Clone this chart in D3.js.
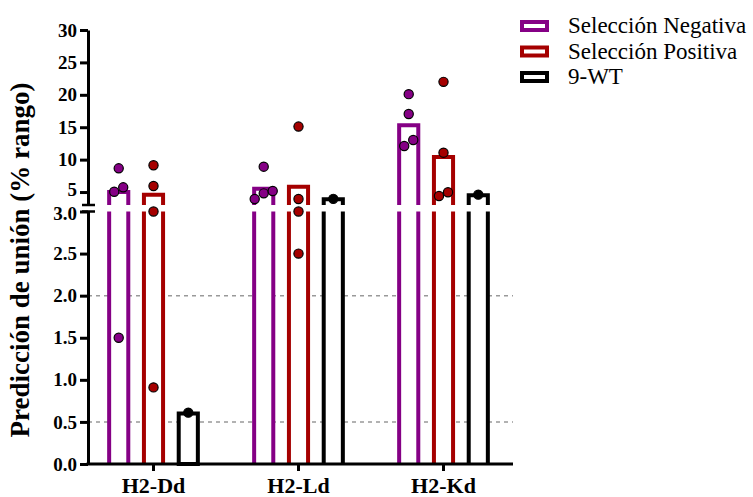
<!DOCTYPE html>
<html>
<head>
<meta charset="utf-8">
<script src="https://cdn.jsdelivr.net/npm/d3@7"></script>
<style>
  body { margin: 0; background: #fff; }
  svg text { font-family: "Liberation Serif", "DejaVu Serif", "Times New Roman", Times, serif; }
</style>
</head>
<body>
<svg id="chart" width="753" height="497"></svg>
<script>
// categories and series
const groups = ['H2-Dd', 'H2-Ld', 'H2-Kd'];
const series = ['Selección Negativa', 'Selección Positiva', '9-WT'];
const colors = ['#850085', '#a50000', '#000000'];

// bar heights (mean), one per group, per series
const negMeans = [5.0, 5.5, 15.3];
const posMeans = [4.6, 5.8, 10.4];
const wtMeans = [0.6, 3.9, 4.5];

// individual points, per group
const negPoints = [[8.66, 5.05, 5.73, 1.5], [8.91, 3.93, 5.16, 4.8], [20.1, 17.04, 12.1, 13.03]];
const posPoints = [[9.13, 5.93, 3.0, 0.91], [15.1, 3.93, 3.0, 2.5], [22.0, 11.07, 4.39, 4.96]];
const wtPoints = [[0.61], [3.95], [4.6]];

// axis ticks
const lowTicks = [0, 0.5, 1.0, 1.5, 2.0, 2.5, 3.0];
const highTicks = [5, 10, 15, 20, 25, 30];
const gridValues = [0.5, 2.0];

const means = [negMeans, posMeans, wtMeans];
const points = [negPoints, posPoints, wtPoints];

const FONT = '"Liberation Serif", "DejaVu Serif", "Times New Roman", Times, serif';

const svg = d3.select('#chart');
const axisX = 88, axisRight = 513;
const breakLow = 3, breakHigh = 3;

// two-segment y axis
const yLow = d3.scaleLinear().domain([0, breakLow]).range([464, 211.5]);
const yHigh = d3.scaleLinear().domain([breakHigh, 30]).range([205, 30]);
const y = v => v <= breakLow ? yLow(v) : yHigh(v);

const x = d3.scaleBand().domain(groups).range([81, 516]);
const xs = d3.scaleBand().domain(series).range([-60, 60]).padding(0.45);

// gridlines
svg.append('g').selectAll('line')
    .data(gridValues)
    .join('line')
    .attr('x1', axisX).attr('x2', axisRight)
    .attr('y1', d => yLow(d)).attr('y2', d => yLow(d))
    .attr('stroke', '#999').attr('stroke-width', 1.5)
    .attr('stroke-dasharray', '4,4');

// bars
const barData = [];
series.forEach((s, si) => {
    groups.forEach((g, gi) => {
        barData.push({ g, s, si, v: means[si][gi], pts: points[si][gi] });
    });
});

const bars = svg.append('g');
barData.forEach(d => {
    const x0 = x(d.g) + x.bandwidth() / 2 + xs(d.s);
    const w = xs.bandwidth();
    const col = colors[d.si];
    const sw = 4;
    if (d.v <= breakLow) {
        bars.append('rect')
            .attr('x', x0).attr('y', yLow(d.v))
            .attr('width', w).attr('height', yLow(0) - yLow(d.v))
            .attr('fill', '#fff').attr('stroke', col).attr('stroke-width', sw);
    } else {
        // lower segment: white fill with sides only
        bars.append('rect')
            .attr('x', x0).attr('y', yLow(breakLow))
            .attr('width', w).attr('height', yLow(0) - yLow(breakLow))
            .attr('fill', '#fff');
        bars.append('path')
            .attr('d', `M${x0},${yLow(0)}V${yLow(breakLow)}M${x0 + w},${yLow(0)}V${yLow(breakLow)}`)
            .attr('fill', 'none').attr('stroke', col).attr('stroke-width', sw);
        // upper segment: open bottom
        bars.append('rect')
            .attr('x', x0).attr('y', yHigh(d.v))
            .attr('width', w).attr('height', yHigh(breakHigh) - yHigh(d.v))
            .attr('fill', '#fff');
        bars.append('path')
            .attr('d', `M${x0},${yHigh(breakHigh)}V${yHigh(d.v)}H${x0 + w}V${yHigh(breakHigh)}`)
            .attr('fill', 'none').attr('stroke', col).attr('stroke-width', sw)
            .attr('stroke-linejoin', 'miter');
    }
});

// points, spread sideways when they overlap
const r = 4.6;
const dots = svg.append('g');
barData.forEach(d => {
    const cx = x(d.g) + x.bandwidth() / 2 + xs(d.s) + xs.bandwidth() / 2;
    const sorted = d.pts.map(v => ({ v, py: y(v) })).sort((a, b) => b.py - a.py);
    const clusters = [];
    sorted.forEach(p => {
        const last = clusters[clusters.length - 1];
        if (last && Math.abs(last[last.length - 1].py - p.py) < 2 * r + 1) last.push(p);
        else clusters.push([p]);
    });
    clusters.forEach(c => {
        c.forEach((p, i) => {
            const off = (i - (c.length - 1) / 2) * 9;
            dots.append('circle')
                .attr('cx', cx + off).attr('cy', p.py).attr('r', r)
                .attr('fill', colors[d.si]).attr('stroke', '#000').attr('stroke-width', 1.2);
        });
    });
});

// y axes
const axisLow = svg.append('g').attr('transform', `translate(${axisX},0)`)
    .call(d3.axisLeft(yLow).tickValues(lowTicks).tickFormat(d3.format('.1f')).tickSize(8).tickSizeOuter(0));
const axisHigh = svg.append('g').attr('transform', `translate(${axisX},0)`)
    .call(d3.axisLeft(yHigh).tickValues(highTicks).tickFormat(d3.format('d')).tickSize(8).tickSizeOuter(0));
[axisLow, axisHigh].forEach(a => {
    a.attr('font-family', FONT);
    a.select('.domain').attr('stroke-width', 3);
    a.selectAll('.tick line').attr('stroke-width', 3);
    a.selectAll('.tick text')
        .attr('x', -11)
        .style('font-family', FONT)
        .style('font-size', '19px').style('font-weight', 'bold');
});
// the two labels next to the break sit very close; nudge them apart a little
axisHigh.selectAll('.tick text').filter(d => d === 5).attr('dy', '0.2em');
axisLow.selectAll('.tick text').filter(d => d === 3).attr('dy', '0.4em');

// break marks
svg.append('g').selectAll('line')
    .data([yHigh(breakHigh), yLow(breakLow)])
    .join('line')
    .attr('x1', axisX - 6).attr('x2', axisX + 7)
    .attr('y1', d => d).attr('y2', d => d)
    .attr('stroke', '#000').attr('stroke-width', 2.5);

// x axis
const xAxis = svg.append('g').attr('transform', `translate(0,${yLow(0)})`)
    .call(d3.axisBottom(x).tickSize(7).tickSizeOuter(0));
xAxis.attr('font-family', FONT);
xAxis.select('.domain').remove();
xAxis.selectAll('.tick line').attr('stroke-width', 3);
xAxis.selectAll('.tick text')
    .attr('y', 13)
    .style('font-family', FONT)
    .style('font-size', '22px').style('font-weight', 'bold');
svg.append('line')
    .attr('x1', axisX - 1.5).attr('x2', axisRight)
    .attr('y1', yLow(0)).attr('y2', yLow(0))
    .attr('stroke', '#000').attr('stroke-width', 3);

// y title
svg.append('text')
    .attr('transform', 'translate(29,260) rotate(-90)')
    .attr('text-anchor', 'middle')
    .style('font-family', FONT)
    .style('font-size', '27px').style('font-weight', 'bold')
    .text('Predicción de unión (% rango)');

// legend
const legend = svg.append('g').attr('transform', 'translate(522,26)');
series.forEach((s, i) => {
    const row = legend.append('g').attr('transform', `translate(0,${i * 25.5})`);
    row.append('rect')
        .attr('x', 0).attr('y', -4).attr('width', 25).attr('height', 8)
        .attr('fill', '#fff').attr('stroke', colors[i]).attr('stroke-width', 4);
    row.append('text')
        .attr('x', 46).attr('y', 7)
        .style('font-family', FONT)
        .style('font-size', '23px')
        .text(s);
});
</script>
</body>
</html>
